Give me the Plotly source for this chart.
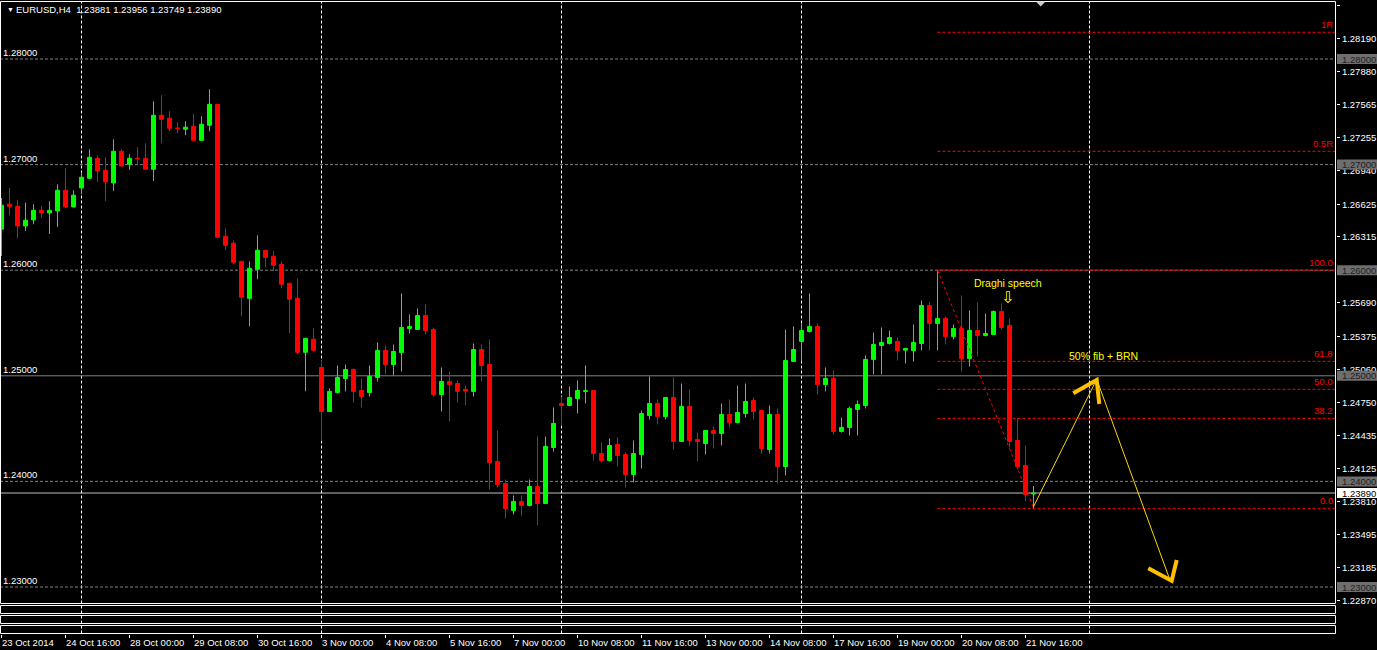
import plotly.graph_objects as go

# ---------------- data ----------------
symbol = "EURUSD,H4"
bars = list(range(130))
opens = [1.26388, 1.26625, 1.26605, 1.26419, 1.26476, 1.26567, 1.26542, 1.26561, 1.26757, 1.26599,
         1.26779, 1.26871, 1.27060, 1.26946, 1.26826, 1.27126, 1.27003, 1.27060, 1.27060, 1.26956,
         1.27467, 1.27439, 1.27347, 1.27335, 1.27363, 1.27230, 1.27373, 1.27571, 1.26321, 1.26255,
         1.26084, 1.25734, 1.26009, 1.26189, 1.26132, 1.26056, 1.25876, 1.25734, 1.25223, 1.25346,
         1.25079, 1.24662, 1.24842, 1.24975, 1.25060, 1.24861, 1.24842, 1.24984, 1.25240, 1.25107,
         1.25221, 1.25448, 1.25439, 1.25571, 1.25439, 1.24823, 1.24946, 1.24927, 1.24871, 1.24852,
         1.25249, 1.25107, 1.24189, 1.23980, 1.23725, 1.23810, 1.23772, 1.23952, 1.23791, 1.24321,
         1.24738, 1.24719, 1.24785, 1.24852, 1.24861, 1.24264, 1.24198, 1.24350, 1.24255, 1.24066,
         1.24255, 1.24624, 1.24738, 1.24615, 1.24795, 1.24378, 1.24710, 1.24397, 1.24359, 1.24482,
         1.24454, 1.24634, 1.24558, 1.24643, 1.24766, 1.24672, 1.24302, 1.24634, 1.24141, 1.25136,
         1.25325, 1.25420, 1.25467, 1.24918, 1.24975, 1.24473, 1.24511, 1.24681, 1.24719, 1.25155,
         1.25287, 1.25306, 1.25325, 1.25243, 1.25240, 1.25306, 1.25666, 1.25496, 1.25543, 1.25373,
         1.25448, 1.25164, 1.25429, 1.25382, 1.25391, 1.25609, 1.25477, 1.24388, 1.24151, 1.23881]
highs = [1.26684, 1.26779, 1.26662, 1.26640, 1.26624, 1.26609, 1.26653, 1.26814, 1.26965, 1.26757,
         1.26924, 1.27145, 1.27088, 1.27069, 1.27240, 1.27145, 1.27098, 1.27164, 1.27202, 1.27600,
         1.27657, 1.27505, 1.27401, 1.27410, 1.27477, 1.27458, 1.27713, 1.27571, 1.26397, 1.26283,
         1.26084, 1.26084, 1.26331, 1.26189, 1.26179, 1.26084, 1.25876, 1.25923, 1.25355, 1.25450,
         1.25145, 1.24880, 1.25098, 1.25107, 1.25069, 1.24975, 1.25098, 1.25316, 1.25287, 1.25297,
         1.25780, 1.25581, 1.25638, 1.25676, 1.25458, 1.25079, 1.25041, 1.24956, 1.24908, 1.25306,
         1.25297, 1.25344, 1.24482, 1.24018, 1.23867, 1.23867, 1.24018, 1.24425, 1.24425, 1.24700,
         1.24804, 1.24899, 1.24956, 1.25098, 1.24861, 1.24369, 1.24406, 1.24416, 1.24274, 1.24388,
         1.24672, 1.24994, 1.24776, 1.24795, 1.24984, 1.24927, 1.24871, 1.24463, 1.24482, 1.24520,
         1.24738, 1.24776, 1.24908, 1.24927, 1.24795, 1.24681, 1.24719, 1.24691, 1.25439, 1.25467,
         1.25496, 1.25780, 1.25496, 1.25079, 1.25051, 1.24605, 1.24710, 1.24766, 1.25193, 1.25410,
         1.25458, 1.25429, 1.25363, 1.25259, 1.25486, 1.25713, 1.25700, 1.26000, 1.25562, 1.25486,
         1.25761, 1.25619, 1.25695, 1.25590, 1.25619, 1.25685, 1.25543, 1.24596, 1.24340, 1.23956]
lows = [1.26135, 1.26520, 1.26302, 1.26372, 1.26435, 1.26495, 1.26343, 1.26410, 1.26590, 1.26596,
        1.26719, 1.26861, 1.26836, 1.26656, 1.26751, 1.26981, 1.26950, 1.27003, 1.26956, 1.26845,
        1.27202, 1.27316, 1.27297, 1.27278, 1.27230, 1.27230, 1.27316, 1.26302, 1.26189, 1.26056,
        1.25564, 1.25469, 1.25914, 1.26028, 1.25990, 1.25829, 1.25403, 1.25204, 1.24853, 1.25232,
        1.24384, 1.24662, 1.24833, 1.24852, 1.24747, 1.24700, 1.24804, 1.24946, 1.25013, 1.25003,
        1.25041, 1.25401, 1.25439, 1.25391, 1.24804, 1.24662, 1.24567, 1.24747, 1.24719, 1.24804,
        1.24946, 1.23923, 1.23942, 1.23649, 1.23687, 1.23677, 1.23763, 1.23583, 1.23791, 1.24283,
        1.24530, 1.24710, 1.24643, 1.24738, 1.24198, 1.24179, 1.24189, 1.24141, 1.23942, 1.23991,
        1.24122, 1.24586, 1.24539, 1.24586, 1.24302, 1.24378, 1.24340, 1.24189, 1.24255, 1.24312,
        1.24340, 1.24511, 1.24549, 1.24605, 1.24586, 1.24264, 1.24264, 1.23980, 1.24056, 1.25136,
        1.25136, 1.25410, 1.24823, 1.24852, 1.24444, 1.24463, 1.24435, 1.24435, 1.24691, 1.25013,
        1.25013, 1.25297, 1.25145, 1.25117, 1.25136, 1.25240, 1.25240, 1.25240, 1.25297, 1.25344,
        1.25041, 1.25088, 1.25183, 1.25373, 1.25391, 1.25439, 1.24321, 1.24113, 1.23810, 1.23749]
closes = [1.26615, 1.26605, 1.26419, 1.26473, 1.26567, 1.26542, 1.26567, 1.26757, 1.26599, 1.26710,
          1.26880, 1.27069, 1.26940, 1.26836, 1.27126, 1.26987, 1.27060, 1.27054, 1.26956, 1.27467,
          1.27429, 1.27344, 1.27341, 1.27354, 1.27230, 1.27382, 1.27571, 1.26312, 1.26236, 1.26075,
          1.25744, 1.26018, 1.26189, 1.26122, 1.26047, 1.25867, 1.25725, 1.25223, 1.25355, 1.25242,
          1.24662, 1.24852, 1.24984, 1.25060, 1.24852, 1.24804, 1.24994, 1.25240, 1.25107, 1.25230,
          1.25458, 1.25467, 1.25571, 1.25429, 1.24823, 1.24946, 1.24918, 1.24852, 1.24855, 1.25249,
          1.25098, 1.24179, 1.23971, 1.23744, 1.23810, 1.23772, 1.23952, 1.23791, 1.24331, 1.24549,
          1.24719, 1.24795, 1.24861, 1.24861, 1.24264, 1.24198, 1.24340, 1.24245, 1.24066, 1.24264,
          1.24643, 1.24738, 1.24615, 1.24795, 1.24378, 1.24710, 1.24388, 1.24378, 1.24482, 1.24454,
          1.24634, 1.24558, 1.24653, 1.24757, 1.24662, 1.24312, 1.24634, 1.24141, 1.25145, 1.25249,
          1.25429, 1.25467, 1.24918, 1.24975, 1.24473, 1.24511, 1.24691, 1.24728, 1.25155, 1.25297,
          1.25316, 1.25363, 1.25240, 1.25259, 1.25316, 1.25666, 1.25496, 1.25543, 1.25373, 1.25448,
          1.25164, 1.25429, 1.25382, 1.25401, 1.25609, 1.25458, 1.24378, 1.24141, 1.23876, 1.23890]

header_values = [1.23881, 1.23956, 1.23749, 1.23890]

time_tick_bars = [0, 8, 16, 24, 32, 40, 48, 56, 64, 72, 80, 88, 96, 104, 112, 120, 128]
time_tick_labels = ["23 Oct 2014", "24 Oct 16:00", "28 Oct 00:00", "29 Oct 08:00", "30 Oct 16:00",
                    "3 Nov 00:00", "4 Nov 08:00", "5 Nov 16:00", "7 Nov 00:00", "10 Nov 08:00",
                    "11 Nov 16:00", "13 Nov 00:00", "14 Nov 08:00", "17 Nov 16:00", "19 Nov 00:00",
                    "20 Nov 08:00", "21 Nov 16:00"]
grid_bars = [10, 40, 70, 100, 136]

price_tick_vals = [1.28505, 1.28190, 1.27880, 1.27565, 1.27255, 1.26940, 1.26625, 1.26315,
                   1.25690, 1.25375, 1.25060, 1.24750, 1.24435, 1.24125, 1.23810, 1.23495,
                   1.23185, 1.22870]

level_prices = [1.28, 1.27, 1.26, 1.25, 1.24, 1.23]
solid_level = 1.25
bid_price = 1.23890

fib_start_bar = 117
fib_prices = [1.23745, 1.24597, 1.24872, 1.25137, 1.26000, 1.27126, 1.28253]
fib_labels = ["0.0", "38.2", "50.0", "61.8", "100.0", "0.5R", "1R"]
fib_swing_bars = [117, 129]
fib_swing_prices = [1.26000, 1.23749]

plan_bars = [129.0, 136.9, 146.06]
plan_prices = [1.23760, 1.24967, 1.23066]
head_top_bars = [133.975, 136.9, 137.225]
head_top_prices = [1.24834, 1.24960, 1.24733]
head_bot_bars = [143.35, 146.275, 146.9]
head_bot_prices = [1.23177, 1.23060, 1.23256]

notes = [("Draghi speech", 125.8, 1.25879), ("50% fib + BRN", 137.8, 1.25188)]
speech_arrow = ("\u21e9", 125.7, 1.25740)
shift_marker_bar = 129.9

# ---------------- styling ----------------
FONT = "Liberation Sans, Arial, sans-serif"
FS = 9.5
UP, DN = "#00ff00", "#ff0000"
PLOT_W, PLOT_H, TOP = 1336, 632, 2


def py(Y):
    """pixel row -> paper y"""
    return (TOP + PLOT_H - Y) / PLOT_H


def px(X):
    return X / PLOT_W


fig = go.Figure()

up = [i for i in bars if closes[i] >= opens[i]]
dn = [i for i in bars if closes[i] < opens[i]]

for idx, col in ((up, UP), (dn, DN)):
    wx, wy = [], []
    for i in idx:
        wx += [bars[i], bars[i], None]
        wy += [lows[i], highs[i], None]
    fig.add_trace(go.Scatter(x=wx, y=wy, mode="lines", line=dict(color=col, width=1),
                             hoverinfo="skip", connectgaps=False))
    fig.add_trace(go.Bar(x=[bars[i] for i in idx],
                         y=[abs(closes[i] - opens[i]) for i in idx],
                         base=[min(opens[i], closes[i]) for i in idx],
                         width=0.5,
                         marker=dict(color=col, line=dict(color=col, width=1)),
                         hoverinfo="skip"))

# fib swing (dotted red)
fig.add_trace(go.Scatter(x=fib_swing_bars, y=fib_swing_prices, mode="lines",
                         line=dict(color=DN, width=1, dash="dot"), hoverinfo="skip"))
# trade plan path
fig.add_trace(go.Scatter(x=plan_bars, y=plan_prices, mode="lines",
                         line=dict(color="#ffd700", width=1), hoverinfo="skip"))
for hx, hy in ((head_top_bars, head_top_prices), (head_bot_bars, head_bot_prices)):
    fig.add_trace(go.Scatter(x=hx, y=hy, mode="lines",
                             line=dict(color="#ffc000", width=4), hoverinfo="skip"))

shapes = []
# vertical grid
for g in grid_bars:
    shapes.append(dict(type="line", xref="x", yref="paper", x0=g, x1=g, y0=py(633.5), y1=1,
                       line=dict(color="#ffffff", width=1, dash="3px,2px"), layer="below"))
# horizontal levels
for lv in level_prices:
    if lv == solid_level:
        ln = dict(color="#808080", width=1)
    else:
        ln = dict(color="#808080", width=1, dash="3px,2px")
    shapes.append(dict(type="line", xref="paper", yref="y", x0=0, x1=px(1335), y0=lv, y1=lv,
                       line=ln, layer="below"))
# bid line
shapes.append(dict(type="line", xref="paper", yref="y", x0=0, x1=px(1335), y0=bid_price,
                   y1=bid_price, line=dict(color="#c0c0c0", width=1), layer="below"))
# fib levels
for fp in fib_prices:
    shapes.append(dict(type="line", xref="x", yref="y", x0=fib_start_bar, x1=170, y0=fp, y1=fp,
                       line=dict(color=DN, width=1, dash="3px,2px"), layer="below"))
# borders
shapes.append(dict(type="rect", xref="paper", yref="paper", x0=px(0.5), x1=px(1335.5),
                   y0=py(603.5), y1=py(1.5), line=dict(color="#ffffff", width=1)))
for y0, y1 in ((605.5, 613.5), (615.5, 623.5), (625.5, 633.5)):
    shapes.append(dict(type="rect", xref="paper", yref="paper", x0=px(0.5), x1=px(1335.5),
                       y0=py(y1), y1=py(y0), line=dict(color="#ffffff", width=1)))
# price boxes on right axis
half = 5 / 10560
for lv in level_prices:
    shapes.append(dict(type="rect", xref="paper", yref="y", x0=px(1337), x1=px(1377),
                       y0=lv - half, y1=lv + half, line=dict(width=0), fillcolor="#6e6e6e",
                       layer="above"))
shapes.append(dict(type="rect", xref="paper", yref="y", x0=px(1337), x1=px(1377),
                   y0=bid_price - half, y1=bid_price + half, line=dict(width=0),
                   fillcolor="#ffffff", layer="above"))
# shift marker
shapes.append(dict(type="path", xref="x", yref="paper",
                   path=f"M {shift_marker_bar-0.6},{py(1.5)} L {shift_marker_bar+0.6},{py(1.5)} "
                        f"L {shift_marker_bar},{py(6.5)} Z",
                   fillcolor="#c8c8c8", line=dict(width=0)))

ann = []
# header
ann.append(dict(xref="paper", yref="paper", x=px(5), y=py(9.5), xanchor="left", yanchor="middle",
                text="\u25bc", showarrow=False, font=dict(family=FONT, size=7, color="#ffffff")))
ann.append(dict(xref="paper", yref="paper", x=px(14), y=py(9.5), xanchor="left", yanchor="middle",
                text=symbol + "\u00a0\u00a0" + " ".join(f"{v:.5f}" for v in header_values),
                showarrow=False, font=dict(family=FONT, size=FS, color="#ffffff")))
# level labels (left) and boxes text (right)
for lv in level_prices:
    ann.append(dict(xref="paper", yref="y", x=px(1), y=lv, xanchor="left", yanchor="bottom",
                    text=f"{lv:.5f}", showarrow=False, yshift=-1,
                    font=dict(family=FONT, size=FS, color="#ffffff")))
    ann.append(dict(xref="paper", yref="y", x=px(1341), y=lv, xanchor="left", yanchor="middle",
                    text=f"{lv:.5f}", showarrow=False, borderpad=0,
                    font=dict(family=FONT, size=FS, color="#1e1e1e")))
ann.append(dict(xref="paper", yref="y", x=px(1341), y=bid_price, xanchor="left", yanchor="middle",
                text=f"{bid_price:.5f}", showarrow=False, borderpad=0,
                font=dict(family=FONT, size=FS, color="#000000")))
# fib labels
for fp, fl in zip(fib_prices, fib_labels):
    ann.append(dict(xref="paper", yref="y", x=px(1334.5), y=fp, xanchor="right", yanchor="bottom",
                    text=fl, showarrow=False, yshift=0,
                    font=dict(family=FONT, size=FS, color=DN)))
# notes
for txt, nx, ny in notes:
    ann.append(dict(xref="x", yref="y", x=nx, y=ny, xanchor="center", yanchor="middle",
                    text=txt, showarrow=False, font=dict(family=FONT, size=10.5, color="#ffff00")))
ann.append(dict(xref="x", yref="y", x=speech_arrow[1], y=speech_arrow[2], xanchor="center",
                yanchor="middle", text=speech_arrow[0], showarrow=False,
                font=dict(family="DejaVu Sans", size=16, color="#ffff00")))
# time labels
for tb, tl in zip(time_tick_bars, time_tick_labels):
    ann.append(dict(xref="x", yref="paper", x=tb, y=py(642.5), xanchor="left", yanchor="middle",
                    xshift=-2, text=tl, showarrow=False,
                    font=dict(family=FONT, size=FS, color="#ffffff")))

fig.update_layout(
    width=1377, height=650,
    margin=dict(l=0, r=41, t=TOP, b=16),
    paper_bgcolor="#000000", plot_bgcolor="#000000",
    showlegend=False, barmode="overlay", hovermode=False,
    xaxis=dict(range=[-0.1875, -0.1875 + PLOT_W / 8], anchor="free", position=0,
               showgrid=False, zeroline=False, showline=False, tickmode="array",
               tickvals=time_tick_bars, showticklabels=False, ticks="outside", ticklen=3,
               tickcolor="#ffffff", tickwidth=1, fixedrange=True),
    yaxis=dict(domain=[py(603), 1], range=[1.28 - 544 / 10560, 1.28 + 57 / 10560], side="right",
               tickmode="array", tickvals=price_tick_vals,
               ticktext=[f"{v:.5f}" for v in price_tick_vals],
               ticks="outside", ticklen=3, tickcolor="#ffffff", tickwidth=1,
               tickfont=dict(family=FONT, size=FS, color="#ffffff"),
               showgrid=False, zeroline=False, showline=False, fixedrange=True),
    shapes=shapes, annotations=ann,
)

fig.write_html("out.html", config={"displayModeBar": False},
               post_script="document.body.style.margin='0';document.body.style.background='#000';")
